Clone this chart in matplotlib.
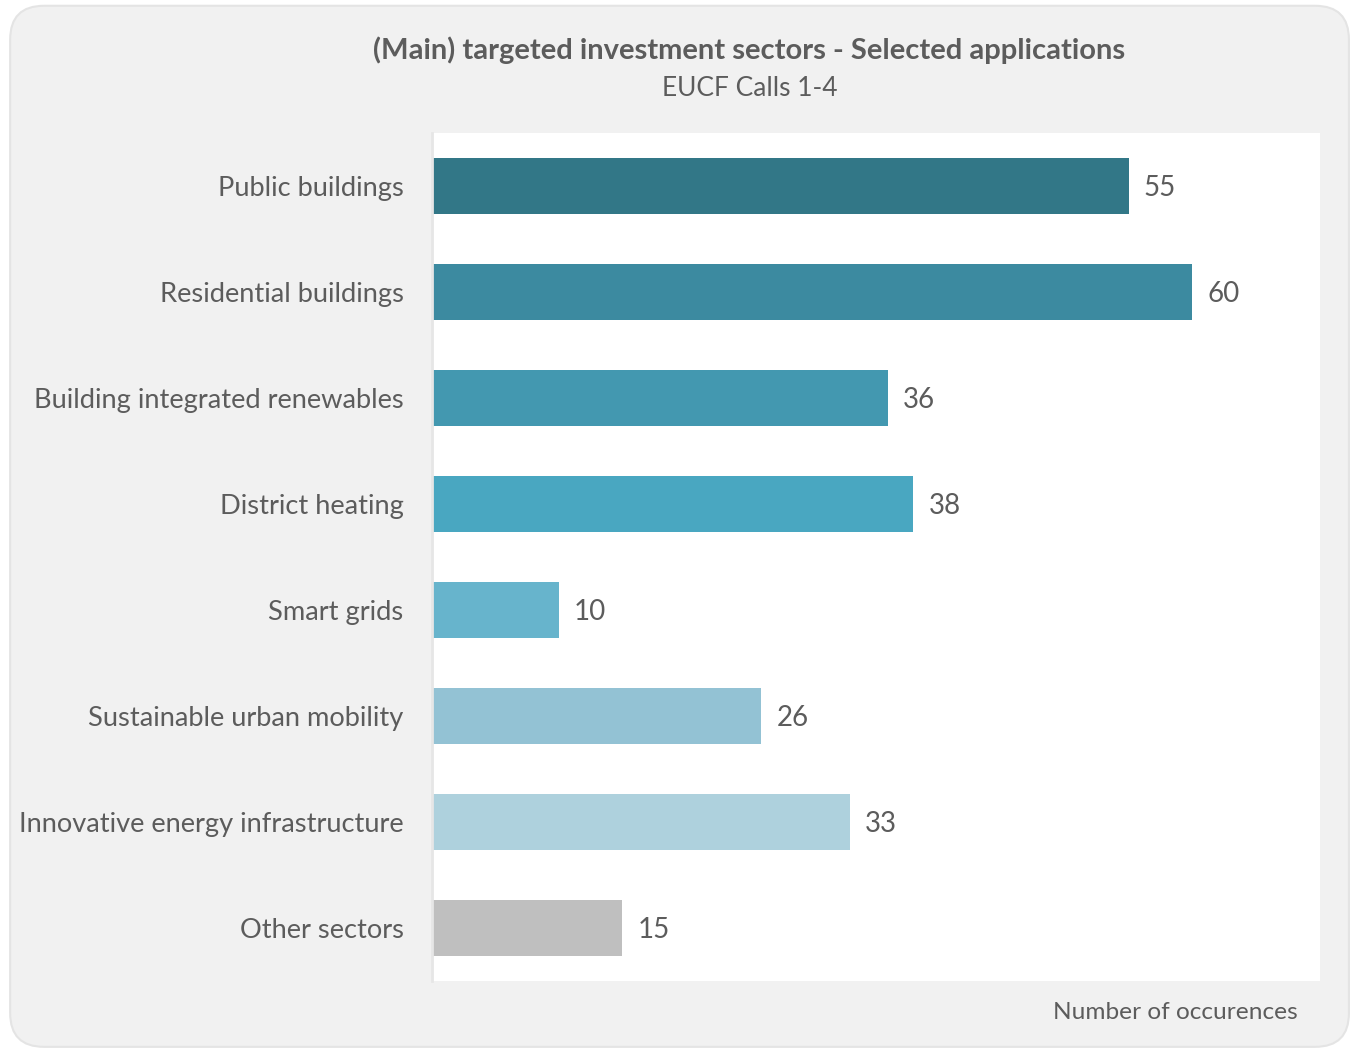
import matplotlib.pyplot as plt
from matplotlib.patches import FancyBboxPatch

sectors = ["Public buildings", "Residential buildings", "Building integrated renewables",
           "District heating", "Smart grids", "Sustainable urban mobility",
           "Innovative energy infrastructure", "Other sectors"]
counts = [55, 60, 36, 38, 10, 26, 33, 15]
colors = ["#327787", "#3c8aa0", "#4398b0", "#49a7c1", "#67b4cc", "#93c2d4", "#aed1dd", "#bfbfbf"]

plt.rcParams["font.family"] = ["Lato", "DejaVu Sans"]
text_col = "#5c5c5c"

fig = plt.figure(figsize=(13.53, 10.5), dpi=100)
fig.patch.set_facecolor("white")

# rounded grey card behind everything
card = FancyBboxPatch((0.0075, 0.003), 0.9895, 0.9915, boxstyle="round,pad=0,rounding_size=0.025",
                      transform=fig.transFigure, facecolor="#f1f1f1", edgecolor="#e4e4e4",
                      linewidth=1.5, zorder=-5, mutation_aspect=1353 / 1050)
fig.patches.append(card)

ax = fig.add_axes([0.3193, 0.0657, 0.9756 - 0.3193, 0.8733 - 0.0657])
ax.set_facecolor("white")
ypos = list(range(len(sectors)))
ax.barh(ypos, counts, height=0.53, color=colors)
for y, v in zip(ypos, counts):
    ax.text(v + 1.2, y + 0.02, str(v), va="center", ha="left", fontsize=20,
            color=text_col)

ax.set_xlim(0, 70.1)
ax.set_ylim(len(sectors) - 0.5, -0.5)
ax.set_yticks(ypos)
ax.set_yticklabels(sectors, fontsize=19.6, color=text_col)
ax.tick_params(axis="y", length=0, pad=20.5)
ax.set_xticks([])
for s in ["top", "right", "bottom"]:
    ax.spines[s].set_visible(False)
ax.spines["left"].set_color("#e6e6e6")
ax.spines["left"].set_linewidth(2)

fig.text(0.554, 0.952, "(Main) targeted investment sectors - Selected applications",
         ha="center", va="center", fontsize=21, fontweight="bold", color=text_col)
fig.text(0.554, 0.916, "EUCF Calls 1-4", ha="center", va="center", fontsize=19,
         color=text_col)
fig.text(0.959, 0.036, "Number of occurences", ha="right", va="center", fontsize=17.6,
         color=text_col)

fig.savefig("out.png", dpi=100)
